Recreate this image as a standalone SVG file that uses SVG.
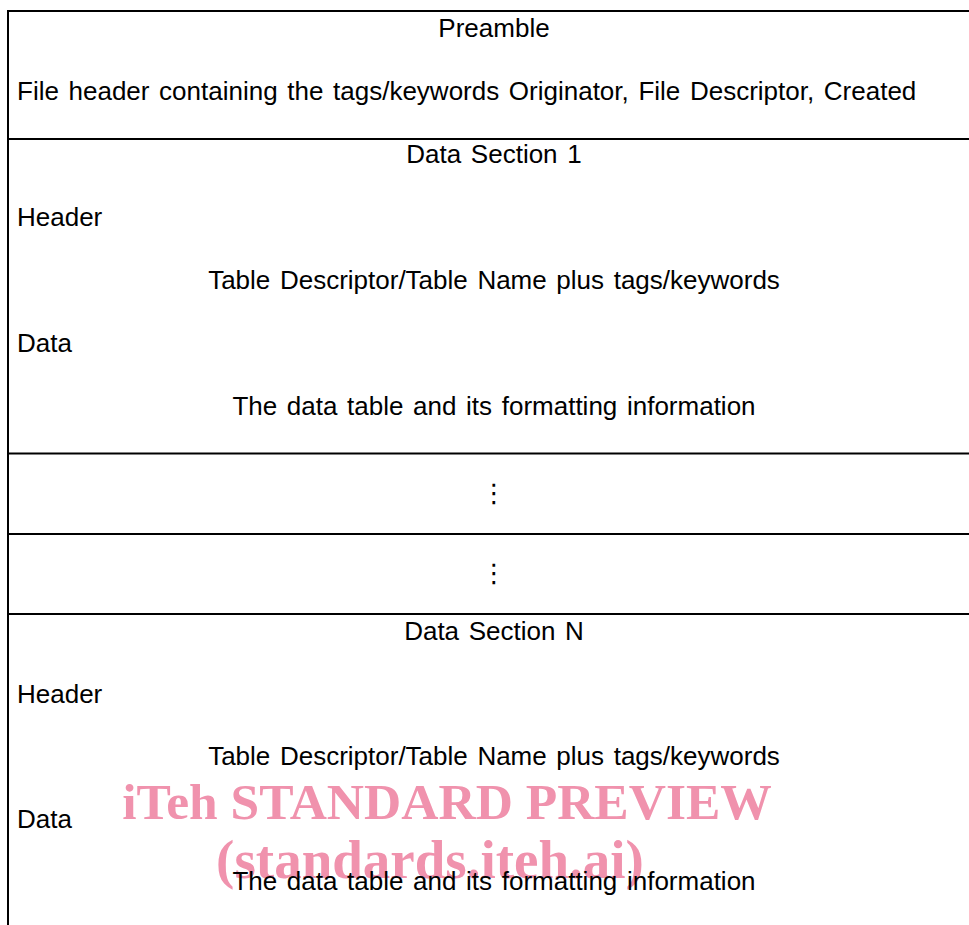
<svg xmlns="http://www.w3.org/2000/svg" width="969" height="925" viewBox="0 0 969 925">
<style>
.t{font-family:"Liberation Sans",Arial,sans-serif;font-size:26px;word-spacing:2.4px;fill:#000}
.c{text-anchor:middle}
.d{font-family:"DejaVu Sans",sans-serif;font-size:26px;text-anchor:middle;fill:#000}
.ln{stroke:#000;stroke-width:2;fill:none}
.wm{font-family:"Liberation Serif","Times New Roman",serif;font-weight:bold;fill:#f092ad;text-anchor:middle}
</style>
<rect width="969" height="925" fill="#fff"/>
<g id="watermark">
<text class="wm" x="447" y="819" font-size="51.5">iTeh STANDARD PREVIEW</text>
<text class="wm" x="430" y="878" font-size="55">(standards.iteh.ai)</text>
</g>
<g id="connectors">
<line class="ln" x1="8" y1="10" x2="8" y2="925"/>
<line class="ln" x1="7" y1="11" x2="969" y2="11"/>
<line class="ln" x1="7" y1="139" x2="969" y2="139"/>
<line class="ln" x1="7" y1="453.5" x2="969" y2="453.5"/>
<line class="ln" x1="7" y1="534" x2="969" y2="534"/>
<line class="ln" x1="7" y1="614" x2="969" y2="614"/>
</g>
<g id="preamble">
<text class="t c" x="494" y="37">Preamble</text>
<text class="t" x="17" y="100">File header containing the tags/keywords Originator, File Descriptor, Created</text>
</g>
<g id="section1">
<text class="t c" x="494" y="163">Data Section 1</text>
<text class="t" x="17" y="226">Header</text>
<text class="t c" x="494" y="289">Table Descriptor/Table Name plus tags/keywords</text>
<text class="t" x="17" y="352">Data</text>
<text class="t c" x="494" y="415">The data table and its formatting information</text>
</g>
<g id="ellipsis1"><text class="d" x="494" y="502">⋮</text></g>
<g id="ellipsis2"><text class="d" x="494" y="582">⋮</text></g>
<g id="sectionN">
<text class="t c" x="494" y="640">Data Section N</text>
<text class="t" x="17" y="703">Header</text>
<text class="t c" x="494" y="765">Table Descriptor/Table Name plus tags/keywords</text>
<text class="t" x="17" y="828">Data</text>
<text class="t c" x="494" y="890">The data table and its formatting information</text>
</g>
</svg>
